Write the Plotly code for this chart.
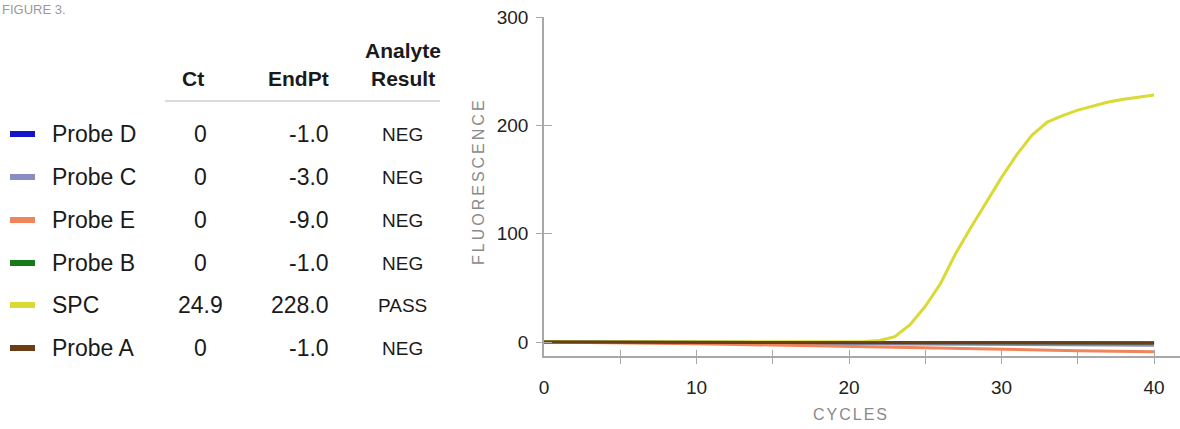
import plotly.graph_objects as go

# ---- data -------------------------------------------------------------
series_names = ["Probe D", "Probe C", "Probe E", "Probe B", "SPC", "Probe A"]
series_colors = ["#1414c8", "#8a8dc2", "#f0845a", "#17781c", "#dada34", "#6b3d14"]
ct_values = ["0", "0", "0", "0", "24.9", "0"]
endpt_values = ["-1.0", "-3.0", "-9.0", "-1.0", "228.0", "-1.0"]
result_values = ["NEG", "NEG", "NEG", "NEG", "PASS", "NEG"]

probe_cycles = [0, 5, 10, 15, 20, 25, 30, 35, 40]
probe_d = [0, -0.1, -0.2, -0.4, -0.5, -0.6, -0.7, -0.9, -1.0]
probe_c = [0, -0.3, -0.7, -1.1, -1.5, -1.9, -2.3, -2.7, -3.0]
probe_e = [0, -0.5, -1.5, -2.8, -4.2, -5.5, -6.8, -8.0, -9.0]
probe_b = [0, -0.1, -0.3, -0.4, -0.5, -0.6, -0.8, -0.9, -1.0]
probe_a = [0, -0.1, -0.2, -0.3, -0.5, -0.6, -0.7, -0.9, -1.0]

spc_cycles = list(range(0, 41))
spc = [0, 0, 0, 0, 0, 0, 0, 0, 0, 0,
       0, 0, 0, 0, 0, 0, 0, 0, 0, 0,
       0.2, 0.5, 1.5, 5, 16, 33, 54, 82, 106, 129,
       152, 173, 191, 203, 209, 214, 218, 221.5, 224, 226, 228]

x_tick_vals = [0, 10, 20, 30, 40]
x_minor_vals = [5, 10, 15, 20, 25, 30, 35, 40]
y_tick_vals = [0, 100, 200, 300]

# ---- layout geometry (pixels) ----------------------------------------
W, H = 1180, 429
ML, MR, MT, MB = 544, 0, 17, 73
PW, PH = W - ML - MR, H - MT - MB


def px_x(px):
    return (px - ML) / PW


def px_y(py):
    return (H - MB - py) / PH


FONT = "Liberation Sans, Arial, Helvetica, sans-serif"
AXIS_GRAY = "#a8a8a8"

fig = go.Figure()

probe_series = {"Probe D": probe_d, "Probe C": probe_c, "Probe E": probe_e,
                "Probe B": probe_b, "Probe A": probe_a}
for name, color in zip(series_names, series_colors):
    if name == "SPC":
        xs, ys = spc_cycles, spc
    else:
        xs, ys = probe_cycles, probe_series[name]
    fig.add_trace(go.Scatter(x=xs, y=ys, mode="lines", name=name,
                             line=dict(color=color, width=3),
                             showlegend=False, hoverinfo="skip"))

# invisible traces so the tick-only overlay axes are drawn
fig.add_trace(go.Scatter(x=[0], y=[0], xaxis="x2", yaxis="y2", mode="markers",
                         marker=dict(opacity=0), showlegend=False, hoverinfo="skip"))
fig.add_trace(go.Scatter(x=[0], y=[0], xaxis="x3", yaxis="y", mode="markers",
                         marker=dict(opacity=0), showlegend=False, hoverinfo="skip"))

x_range = [0, 41.7]
y_range = [-12.9, 300]

fig.update_layout(
    width=W, height=H,
    margin=dict(l=ML, r=MR, t=MT, b=MB, pad=0),
    paper_bgcolor="white", plot_bgcolor="white",
    font=dict(family=FONT, color="#222"),
    xaxis=dict(range=x_range, showgrid=False, zeroline=False, showline=True,
               linecolor=AXIS_GRAY, linewidth=1.5, tickvals=x_tick_vals,
               ticks="", tickfont=dict(size=19, color="#222"),
               ticklabelstandoff=13, fixedrange=True),
    xaxis2=dict(range=x_range, overlaying="x", anchor="y", side="bottom",
                showgrid=False, zeroline=False, showline=False,
                tickvals=x_minor_vals, ticks="outside", ticklen=7,
                tickcolor=AXIS_GRAY, tickwidth=1.2, showticklabels=False),
    xaxis3=dict(range=x_range, overlaying="x", anchor="y", side="bottom",
                showgrid=False, zeroline=False, showline=False,
                tickvals=x_minor_vals, ticks="inside", ticklen=6,
                tickcolor=AXIS_GRAY, tickwidth=1.2, showticklabels=False),
    yaxis=dict(range=y_range, showgrid=False, zeroline=False, showline=True,
               linecolor=AXIS_GRAY, linewidth=1.5, tickvals=y_tick_vals,
               ticks="outside", ticklen=6, tickcolor=AXIS_GRAY, tickwidth=1.2,
               tickfont=dict(size=19, color="#222"), ticklabelstandoff=4,
               fixedrange=True),
    yaxis2=dict(range=y_range, overlaying="y", anchor="x", side="left",
                showgrid=False, zeroline=False, showline=False,
                tickvals=y_tick_vals, ticks="inside", ticklen=8,
                tickcolor=AXIS_GRAY, tickwidth=1.2, showticklabels=False),
)

annotations = []
shapes = []


def text(px, py, s, size, xanchor="left", color="#1a1a1a", bold=False, **kw):
    annotations.append(dict(
        x=px_x(px), y=px_y(py), xref="paper", yref="paper", text=s,
        showarrow=False, xanchor=xanchor, yanchor="middle",
        font=dict(family=FONT, size=size, color=color,
                  weight="bold" if bold else "normal"), **kw))


# axis titles
text(851, 415, '<span style="letter-spacing:2px">CYCLES</span>', 16,
     xanchor="center", color="#8a8a8a")
text(478, 181, '<span style="letter-spacing:3px">FLUORESCENCE</span>', 16,
     xanchor="center", color="#8a8a8a", textangle=-90)

# figure caption in the top-left corner
annotations.append(dict(x=px_x(0), y=px_y(0), xref="paper", yref="paper",
                        text="FIGURE 3.", showarrow=False, xanchor="left",
                        yanchor="top",
                        font=dict(family=FONT, size=13, color="#9a9a9a")))

# table header
text(193, 78, "Ct", 21, xanchor="center", bold=True)
text(298, 78, "EndPt", 21, xanchor="center", bold=True)
text(403, 51, "Analyte", 21, xanchor="center", bold=True)
text(403, 78, "Result", 21, xanchor="center", bold=True)
shapes.append(dict(type="line", xref="paper", yref="paper",
                   x0=px_x(165), x1=px_x(440), y0=px_y(101), y1=px_y(101),
                   line=dict(color="#cfcfcf", width=1.5)))

# table rows with colour keys
row_y = [134, 177, 220, 263, 305, 348]
for i, name in enumerate(series_names):
    y = row_y[i]
    shapes.append(dict(type="rect", xref="paper", yref="paper",
                       x0=px_x(10), x1=px_x(35), y0=px_y(y - 3), y1=px_y(y + 3),
                       fillcolor=series_colors[i], line=dict(width=0)))
    text(50, y, name, 23)
    text(200, y, ct_values[i], 23, xanchor="center")
    text(331, y, endpt_values[i], 23, xanchor="right")
    text(402, y, result_values[i], 19, xanchor="center")

fig.update_layout(annotations=annotations, shapes=shapes)

fig.write_html("out.html")
